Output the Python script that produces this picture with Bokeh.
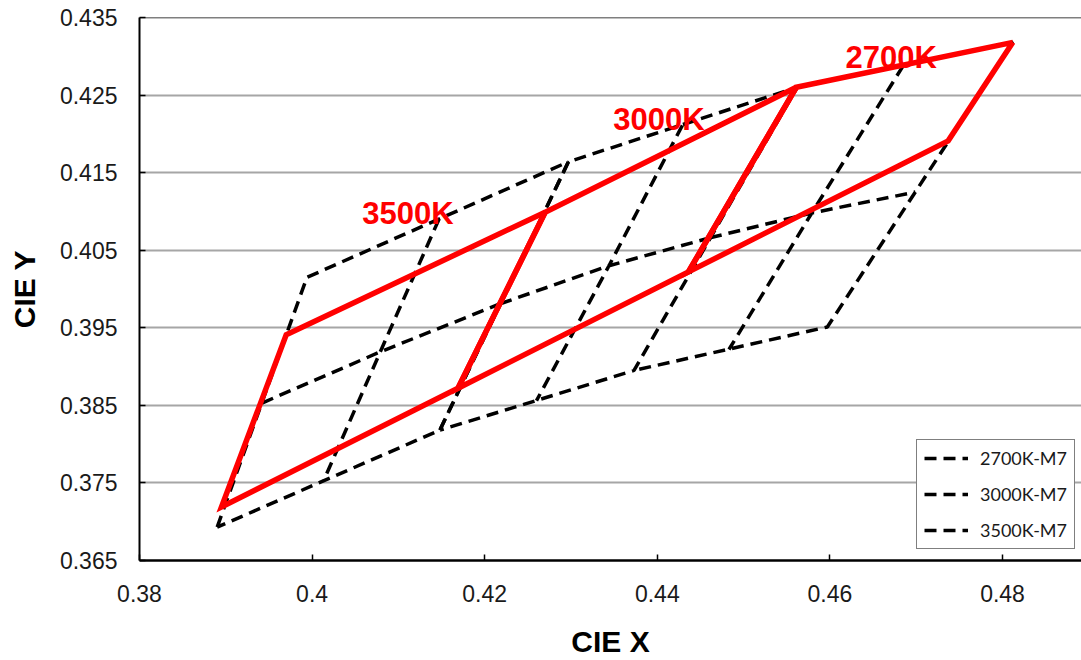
import numpy as np
from bokeh.plotting import figure
from bokeh.models import FixedTicker, Span, Legend, LegendItem, Range1d
from bokeh.core.properties import value
from bokeh.embed import file_html
from bokeh.resources import INLINE

# ---------------- data ----------------
x_ticks = [0.38, 0.40, 0.42, 0.44, 0.46, 0.48]
x_tick_labels = ["0.38", "0.4", "0.42", "0.44", "0.46", "0.48"]
y_ticks = [0.365, 0.375, 0.385, 0.395, 0.405, 0.415, 0.425, 0.435]
y_tick_labels = ["0.365", "0.375", "0.385", "0.395", "0.405", "0.415", "0.425", "0.435"]

# M7 quadrangles: corners (BL, TL, TR, BR)
m7_3500_corner_x = [0.3890, 0.3994, 0.4297, 0.4148]
m7_3500_corner_y = [0.3693, 0.4015, 0.4164, 0.3818]
m7_3000_corner_x = [0.4148, 0.4297, 0.4562, 0.4373]
m7_3000_corner_y = [0.3818, 0.4164, 0.4260, 0.3895]
m7_2700_corner_x = [0.4373, 0.4562, 0.4812, 0.4597]
m7_2700_corner_y = [0.3895, 0.4260, 0.4318, 0.3951]
# centre lines along the locus (left edge, centre, right edge)
m7_3500_mid_x = [0.3942, 0.4079, 0.4218]
m7_3500_mid_y = [0.3853, 0.3919, 0.3981]
m7_3000_mid_x = [0.4218, 0.4344, 0.4461]
m7_3000_mid_y = [0.3981, 0.4030, 0.4066]
m7_2700_mid_x = [0.4461, 0.4579, 0.4699]
m7_2700_mid_y = [0.4066, 0.4098, 0.4125]
# centre lines across the locus (top edge, centre, bottom edge)
m7_3500_cross_x = [0.4147, 0.4079, 0.4013]
m7_3500_cross_y = [0.4090, 0.3919, 0.3752]
m7_3000_cross_x = [0.4429, 0.4344, 0.4260]
m7_3000_cross_y = [0.4211, 0.4030, 0.3856]
m7_2700_cross_x = [0.4685, 0.4579, 0.4483]
m7_2700_cross_y = [0.4288, 0.4098, 0.3922]

# red bins (closed quadrangles)
bin_2700_x = [0.4812, 0.4561, 0.4436, 0.4737]
bin_2700_y = [0.4318, 0.4260, 0.4022, 0.4191]
bin_3000_x = [0.4561, 0.4270, 0.4169, 0.4436]
bin_3000_y = [0.4260, 0.4099, 0.3872, 0.4022]
bin_3500_x = [0.4270, 0.3970, 0.3895, 0.4169]
bin_3500_y = [0.4099, 0.3941, 0.3719, 0.3872]

bin_labels = ["2700K", "3000K", "3500K"]
bin_label_x = [0.4618, 0.4349, 0.4058]
bin_label_y = [0.4299, 0.4219, 0.4097]

series_names = ["2700K-M7", "3000K-M7", "3500K-M7"]

FONT = "Liberation Sans"


def m7_path(cx, cy, mx, my, kx, ky, close=True):
    xs = list(cx) + ([cx[0]] if close else [])
    ys = list(cy) + ([cy[0]] if close else [])
    xs = xs + [np.nan] + list(mx) + [np.nan] + list(kx)
    ys = ys + [np.nan] + list(my) + [np.nan] + list(ky)
    return np.array(xs, dtype=float), np.array(ys, dtype=float)


p = figure(width=1081, height=660,
           x_range=Range1d(0.38, 0.48915), y_range=Range1d(0.365, 0.435),
           output_backend="svg", toolbar_location=None,
           min_border_left=139, min_border_right=0,
           min_border_top=17, min_border_bottom=100)
p.outline_line_color = None
p.background_fill_color = "white"
p.border_fill_color = "white"

# grid
p.xgrid.grid_line_color = None
p.ygrid.ticker = FixedTicker(ticks=y_ticks[1:-1])
p.ygrid.grid_line_color = "#a6a6a6"
p.ygrid.grid_line_width = 2
p.add_layout(Span(location=y_ticks[-1], dimension="width", line_color="black", line_width=1.5))

# axes
for ax in (p.xaxis[0], p.yaxis[0]):
    ax.axis_line_color = "black"
    ax.major_tick_line_color = "black"
    ax.major_tick_line_width = 1.5
    ax.major_tick_in = 6
    ax.major_tick_out = 0
    ax.minor_tick_line_color = None
    ax.major_label_text_font = FONT
    ax.major_label_text_font_size = "23px"
    ax.major_label_text_color = "#1a1a1a"
    ax.axis_label_text_font = FONT
    ax.axis_label_text_font_size = "30px"
    ax.axis_label_text_font_style = "bold"
    ax.axis_label_text_color = "black"

p.xaxis.axis_line_width = 2.5
p.yaxis.axis_line_width = 2
p.xaxis.major_label_standoff = 24
p.yaxis.major_label_standoff = 22
p.xaxis.ticker = FixedTicker(ticks=x_ticks)
p.xaxis.major_label_overrides = dict(zip(x_ticks, x_tick_labels))
p.yaxis.ticker = FixedTicker(ticks=y_ticks)
p.yaxis.major_label_overrides = dict(zip(y_ticks, y_tick_labels))
p.xaxis.axis_label = "CIE X"
p.yaxis.axis_label = "CIE Y"
p.xaxis.axis_label_standoff = 20
p.yaxis.axis_label_standoff = 16

# black dashed M7 quadrangles
dash = "12 7"
x35, y35 = m7_path(m7_3500_corner_x, m7_3500_corner_y, m7_3500_mid_x, m7_3500_mid_y,
                   m7_3500_cross_x, m7_3500_cross_y)
x30, y30 = m7_path(m7_3000_corner_x, m7_3000_corner_y, m7_3000_mid_x, m7_3000_mid_y,
                   m7_3000_cross_x, m7_3000_cross_y)
x27, y27 = m7_path(m7_2700_corner_x[1:] + m7_2700_corner_x[:1], m7_2700_corner_y[1:] + m7_2700_corner_y[:1],
                   m7_2700_mid_x, m7_2700_mid_y, m7_2700_cross_x, m7_2700_cross_y, close=False)

r35 = p.line(x35, y35, line_color="black", line_width=3.5, line_dash=dash)
r30 = p.line(x30, y30, line_color="black", line_width=3.5, line_dash=dash)
r27 = p.line(x27, y27, line_color="black", line_width=3.5, line_dash=dash)

# red bins
for bx, by in ((bin_3500_x, bin_3500_y), (bin_3000_x, bin_3000_y), (bin_2700_x, bin_2700_y)):
    p.line(list(bx) + [bx[0]], list(by) + [by[0]], line_color="#ff0000", line_width=5.5,
           line_join="miter")

p.text(x=bin_label_x, y=bin_label_y, text=bin_labels, text_color="#ff0000",
       text_font=value(FONT), text_font_size="31px", text_font_style="bold",
       text_align="left", text_baseline="alphabetic")

legend = Legend(items=[LegendItem(label=series_names[0], renderers=[r27]),
                       LegendItem(label=series_names[1], renderers=[r30]),
                       LegendItem(label=series_names[2], renderers=[r35])],
                location=(777, 11))
legend.label_text_font = "Lato"
legend.label_text_font_size = "18px"
legend.label_text_color = "#1a1a1a"
legend.glyph_width = 44
legend.glyph_height = 20
legend.label_height = 20
legend.label_standoff = 12
legend.padding = 7
legend.spacing = 14
legend.margin = 0
legend.border_line_color = "black"
legend.border_line_width = 1.5
legend.background_fill_color = "white"
legend.background_fill_alpha = 1.0
p.add_layout(legend, "center")

open("out.html", "w").write(file_html(p, INLINE))
